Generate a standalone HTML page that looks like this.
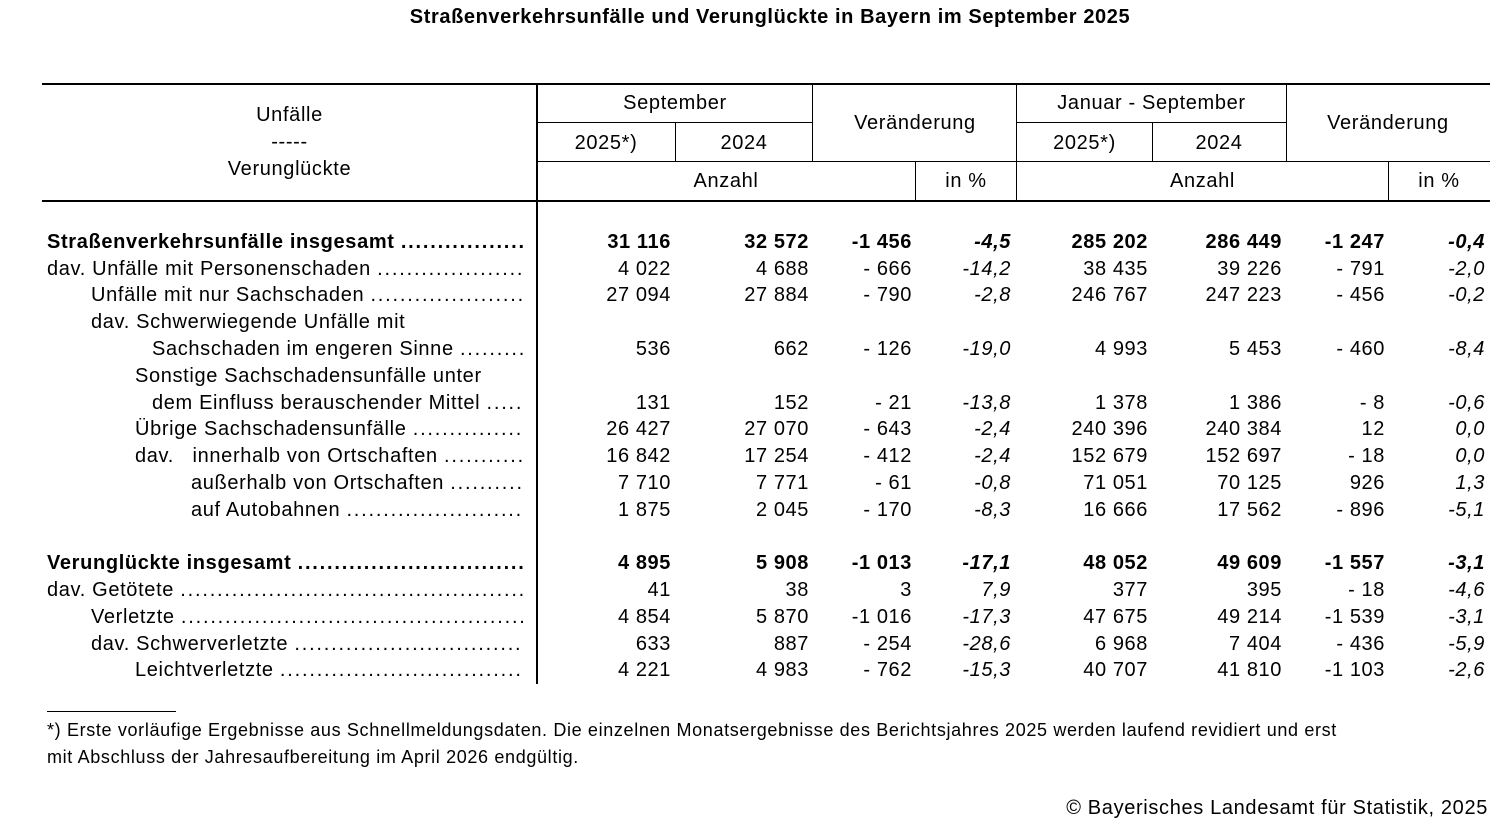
<!DOCTYPE html>
<html><head><meta charset="utf-8"><style>
body{margin:0;width:1509px;height:832px;background:#fff;font-family:"Liberation Sans",Arial,sans-serif;color:#000;position:relative;overflow:hidden;letter-spacing:0.65px}
.a{position:absolute;white-space:nowrap;font-size:20px;line-height:22px}
.h{position:absolute;background:#000;height:2px}
.v{position:absolute;background:#000;width:2px}
.c{text-align:center}
.r{text-align:right}
.lab{position:absolute;white-space:nowrap;overflow:hidden;font-size:20px;line-height:22px}
.b{font-weight:bold}
.i{font-style:italic}
.d{letter-spacing:1.8px}
</style></head><body>
<div class="a b c" style="left:0;width:1540px;top:6px;font-size:20px;letter-spacing:0.6px">Straßenverkehrsunfälle und Verunglückte in Bayern im September 2025</div>

<div class="h" style="left:42px;width:1448px;top:83px"></div>
<div class="h" style="left:537px;width:276px;top:122px;height:1px"></div>
<div class="h" style="left:1017px;width:269px;top:122px;height:1px"></div>
<div class="h" style="left:537px;width:953px;top:161px;height:1px"></div>
<div class="h" style="left:42px;width:1448px;top:200px"></div>
<div class="v" style="left:536px;top:84px;height:600px"></div>
<div class="v" style="left:812px;top:84px;height:78px;width:1px"></div>
<div class="v" style="left:675px;top:123px;height:39px;width:1px"></div>
<div class="v" style="left:1016px;top:84px;height:117px;width:1px"></div>
<div class="v" style="left:1152px;top:123px;height:39px;width:1px"></div>
<div class="v" style="left:1286px;top:84px;height:78px;width:1px"></div>
<div class="v" style="left:915px;top:162px;height:39px;width:1px"></div>
<div class="v" style="left:1388px;top:162px;height:39px;width:1px"></div>

<div class="a c" style="left:42px;width:495px;top:104px">Unfälle</div>
<div class="a c" style="left:42px;width:495px;top:131px">-----</div>
<div class="a c" style="left:42px;width:495px;top:158px">Verunglückte</div>
<div class="a c" style="left:537px;width:276px;top:92px">September</div>
<div class="a c" style="left:537px;width:138px;top:132px">2025*)</div>
<div class="a c" style="left:675px;width:138px;top:132px">2024</div>
<div class="a c" style="left:813px;width:204px;top:112px">Veränderung</div>
<div class="a c" style="left:1017px;width:269px;top:92px">Januar - September</div>
<div class="a c" style="left:1017px;width:135px;top:132px">2025*)</div>
<div class="a c" style="left:1152px;width:134px;top:132px">2024</div>
<div class="a c" style="left:1286px;width:204px;top:112px">Veränderung</div>
<div class="a c" style="left:537px;width:378px;top:170px">Anzahl</div>
<div class="a c" style="left:915px;width:102px;top:170px">in %</div>
<div class="a c" style="left:1017px;width:371px;top:170px">Anzahl</div>
<div class="a c" style="left:1388px;width:102px;top:170px">in %</div>

<div id="rows"></div>
<script>
const D="........................................................................................................................................";
const rows=[
[231,47,"Straßenverkehrsunfälle insgesamt","b",["31 116","32 572","-1 456","-4,5","285 202","286 449","-1 247","-0,4"]],
[258,47,"dav. Unfälle mit Personenschaden","",["4 022","4 688","- 666","-14,2","38 435","39 226","- 791","-2,0"]],
[284,91,"Unfälle mit nur Sachschaden","",["27 094","27 884","- 790","-2,8","246 767","247 223","- 456","-0,2"]],
[311,91,"dav. Schwerwiegende Unfälle mit",null,null],
[338,152,"Sachschaden im engeren Sinne","",["536","662","- 126","-19,0","4 993","5 453","- 460","-8,4"]],
[365,135,"Sonstige Sachschadensunfälle unter",null,null],
[392,152,"dem Einfluss berauschender Mittel","",["131","152","- 21","-13,8","1 378","1 386","- 8","-0,6"]],
[418,135,"Übrige Sachschadensunfälle","",["26 427","27 070","- 643","-2,4","240 396","240 384","12","0,0"]],
[445,135,"dav.&nbsp;&nbsp;&nbsp;innerhalb von Ortschaften","",["16 842","17 254","- 412","-2,4","152 679","152 697","- 18","0,0"]],
[472,191,"außerhalb von Ortschaften","",["7 710","7 771","- 61","-0,8","71 051","70 125","926","1,3"]],
[499,191,"auf Autobahnen","",["1 875","2 045","- 170","-8,3","16 666","17 562","- 896","-5,1"]],
[552,47,"Verunglückte insgesamt","b",["4 895","5 908","-1 013","-17,1","48 052","49 609","-1 557","-3,1"]],
[579,47,"dav. Getötete","",["41","38","3","7,9","377","395","- 18","-4,6"]],
[606,91,"Verletzte","",["4 854","5 870","-1 016","-17,3","47 675","49 214","-1 539","-3,1"]],
[633,91,"dav. Schwerverletzte","",["633","887","- 254","-28,6","6 968","7 404","- 436","-5,9"]],
[659,135,"Leichtverletzte","",["4 221","4 983","- 762","-15,3","40 707","41 810","-1 103","-2,6"]]];
const R=[671,809,912,1011,1148,1282,1385,1485];
let h="";
for(const [y,x,l,c,v] of rows){
 if(v===null){h+=`<div class="a" style="left:${x}px;top:${y}px">${l}</div>`;continue;}
 h+=`<div class="lab ${c}" style="left:${x}px;width:${524-x}px;top:${y}px">${l} <span class="d">${D}</span></div>`;
 v.forEach((t,k)=>{const it=(k==3||k==7)?" i":"";h+=`<div class="a r ${c}${it}" style="left:${R[k]-150}px;width:150px;top:${y}px;letter-spacing:0.6px">${t}</div>`;});
}
document.getElementById("rows").innerHTML=h;
</script>

<div class="h" style="left:47px;width:129px;top:711px;height:1px"></div>
<div class="a" style="left:47px;top:719px;font-size:18px">*) Erste vorläufige Ergebnisse aus Schnellmeldungsdaten. Die einzelnen Monatsergebnisse des Berichtsjahres 2025 werden laufend revidiert und erst</div>
<div class="a" style="left:47px;top:746px;font-size:18px">mit Abschluss der Jahresaufbereitung im April 2026 endgültig.</div>
<div class="a r" style="left:888px;width:600px;top:797px">© Bayerisches Landesamt für Statistik, 2025</div>
</body></html>
